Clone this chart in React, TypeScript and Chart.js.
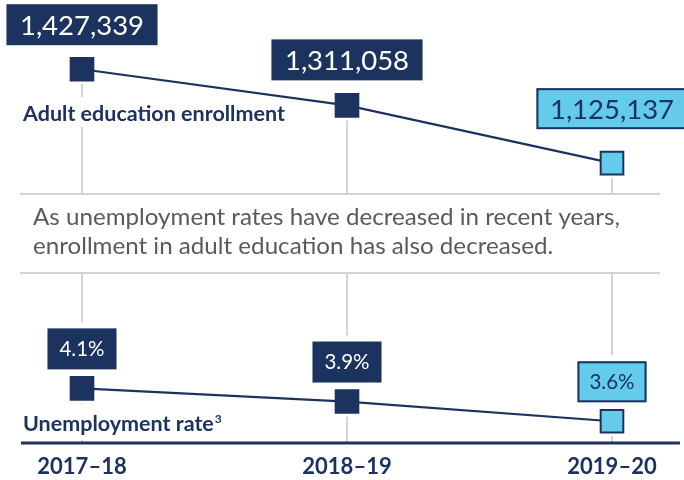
import { useEffect, useRef } from 'react';
import { Chart, registerables } from 'chart.js';

Chart.register(...registerables);

// ---- data ----
const categories = ['2017–18', '2018–19', '2019–20'];
const enrollment = [1427339, 1311058, 1125137];
const unemploymentRate = [4.1, 3.9, 3.6];
const enrollmentTitle = 'Adult education enrollment';
const unemploymentTitle = 'Unemployment rate';
const unemploymentFootnote = '3';
const noteLines = [
  'As unemployment rates have decreased in recent years,',
  'enrollment in adult education has also decreased.',
];

// ---- styles ----
const NAVY = '#1c3360';
const LIGHT = '#64cbea';
const GRID = '#d3d3d3';
const NOTE = '#5a5a5a';
const FONT = 'Lato, "Open Sans", sans-serif';

const LAYOUT = {
  dividerTop: 194,
  dividerBottom: 273,
  ruleLeft: 20,
  ruleRight: 660,
  axisLeft: 21,
  axisRight: 680,
  topBoxOffsets: [24, 25, 34],
  bottomBoxOffset: 19,
  noteX: 33,
  noteStretch: 1.05,
  noteBaselines: [225, 254],
  topTitle: { x: 23, baseline: 121 },
  bottomTitle: { x: 23, baseline: 431 },
};

const isLast = (i: number, n: number) => i === n - 1;

function computeBoxes(chart: any) {
  const { ctx, scales } = chart;
  const out: any[] = [];
  ctx.save();
  enrollment.forEach((v, i) => {
    const size = 27.5;
    const font = `${size}px ${FONT}`;
    ctx.font = font;
    const text = v.toLocaleString('en-US');
    const w = ctx.measureText(text).width + 27;
    const h = 41;
    const px = scales.x.getPixelForValue(i);
    const py = scales.y.getPixelForValue(v);
    const bottom = py - LAYOUT.topBoxOffsets[i];
    out.push({ x: px - w / 2, y: bottom - h, w, h, text, font, size, light: isLast(i, enrollment.length) });
  });
  unemploymentRate.forEach((v, i) => {
    const size = 20.5;
    const font = `${size}px ${FONT}`;
    ctx.font = font;
    const text = v.toFixed(1) + '%';
    const w = ctx.measureText(text).width + 24;
    const h = 41;
    const px = scales.x.getPixelForValue(i);
    const py = scales.y2.getPixelForValue(v);
    const bottom = py - LAYOUT.bottomBoxOffset;
    out.push({ x: px - w / 2, y: bottom - h, w, h, text, font, size, light: isLast(i, unemploymentRate.length) });
  });
  ctx.restore();
  return out;
}

const panelPlugin = {
  id: 'panels',
  beforeDatasetsDraw(chart: any) {
    const { ctx, chartArea, scales } = chart;
    ctx.save();
    const line = (x1: number, y1: number, x2: number, y2: number) => {
      ctx.beginPath();
      ctx.moveTo(x1, y1);
      ctx.lineTo(x2, y2);
      ctx.stroke();
    };
    ctx.strokeStyle = GRID;
    ctx.lineWidth = 2;
    line(LAYOUT.ruleLeft, LAYOUT.dividerTop, LAYOUT.ruleRight, LAYOUT.dividerTop);
    line(LAYOUT.ruleLeft, LAYOUT.dividerBottom, LAYOUT.ruleRight, LAYOUT.dividerBottom);
    categories.forEach((_, i) => {
      const px = scales.x.getPixelForValue(i);
      const py = scales.y.getPixelForValue(enrollment[i]);
      line(px, py, px, LAYOUT.dividerTop);
      line(px, LAYOUT.dividerBottom, px, chartArea.bottom);
    });

    // white pads
    ctx.fillStyle = '#ffffff';
    computeBoxes(chart).forEach((b) => ctx.fillRect(b.x - 6, b.y - 6, b.w + 12, b.h + 12));
    categories.forEach((_, i) => {
      const px = scales.x.getPixelForValue(i);
      const p1 = scales.y.getPixelForValue(enrollment[i]);
      const p2 = scales.y2.getPixelForValue(unemploymentRate[i]);
      ctx.fillRect(px - 15, p1 - 15, 30, 30);
      ctx.fillRect(px - 15, p2 - 15, 30, 30);
    });

    // series titles
    ctx.font = `bold 21.5px ${FONT}`;
    const tw = ctx.measureText(enrollmentTitle).width;
    ctx.fillRect(LAYOUT.topTitle.x - 3, LAYOUT.topTitle.baseline - 24, tw + 6, 30);
    const uw = ctx.measureText(unemploymentTitle).width;
    ctx.fillRect(LAYOUT.bottomTitle.x - 3, LAYOUT.bottomTitle.baseline - 27, uw + 20, 36);

    ctx.fillStyle = NAVY;
    ctx.textBaseline = 'alphabetic';
    ctx.textAlign = 'left';
    ctx.fillText(enrollmentTitle, LAYOUT.topTitle.x, LAYOUT.topTitle.baseline);
    ctx.fillText(unemploymentTitle, LAYOUT.bottomTitle.x, LAYOUT.bottomTitle.baseline);
    ctx.font = `bold 12px ${FONT}`;
    ctx.fillText(unemploymentFootnote, LAYOUT.bottomTitle.x + uw + 1, LAYOUT.bottomTitle.baseline - 8);

    // note
    ctx.fillStyle = NOTE;
    ctx.font = `23px ${FONT}`;
    noteLines.forEach((t, i) => {
      ctx.save();
      ctx.translate(LAYOUT.noteX, LAYOUT.noteBaselines[i]);
      ctx.scale(LAYOUT.noteStretch, 1);
      ctx.fillText(t, 0, 0);
      ctx.restore();
    });
    ctx.restore();
  },
  afterDatasetsDraw(chart: any) {
    const { ctx } = chart;
    ctx.save();
    computeBoxes(chart).forEach((b) => {
      ctx.fillStyle = b.light ? LIGHT : NAVY;
      ctx.fillRect(b.x, b.y, b.w, b.h);
      if (b.light) {
        ctx.strokeStyle = NAVY;
        ctx.lineWidth = 2;
        ctx.strokeRect(b.x + 1, b.y + 1, b.w - 2, b.h - 2);
      }
      ctx.fillStyle = b.light ? NAVY : '#ffffff';
      ctx.font = b.font;
      ctx.textAlign = 'center';
      ctx.textBaseline = 'alphabetic';
      ctx.fillText(b.text, b.x + b.w / 2, b.y + b.h / 2 + b.size * 0.36);
    });
    // x axis rule
    ctx.strokeStyle = NAVY;
    ctx.lineWidth = 3;
    ctx.beginPath();
    ctx.moveTo(LAYOUT.axisLeft, chart.chartArea.bottom);
    ctx.lineTo(LAYOUT.axisRight, chart.chartArea.bottom);
    ctx.stroke();
    ctx.restore();
  },
};

export default function App() {
  const ref = useRef<HTMLCanvasElement | null>(null);

  useEffect(() => {
    if (!ref.current) return;
    const pointColors = (n: number) =>
      Array.from({ length: n }, (_, i) => (isLast(i, n) ? LIGHT : NAVY));
    const chart = new Chart(ref.current, {
      type: 'line',
      data: {
        labels: categories,
        datasets: [
          {
            label: enrollmentTitle,
            data: enrollment,
            yAxisID: 'y',
            borderColor: NAVY,
            borderWidth: 2.2,
            pointStyle: 'rect',
            pointRadius: 16,
            pointBackgroundColor: pointColors(enrollment.length),
            pointBorderColor: NAVY,
            pointBorderWidth: 2,
            tension: 0,
          },
          {
            label: unemploymentTitle,
            data: unemploymentRate,
            yAxisID: 'y2',
            borderColor: NAVY,
            borderWidth: 2.2,
            pointStyle: 'rect',
            pointRadius: 16,
            pointBackgroundColor: pointColors(unemploymentRate.length),
            pointBorderColor: NAVY,
            pointBorderWidth: 2,
            tension: 0,
          },
        ],
      },
      options: {
        animation: false,
        responsive: true,
        maintainAspectRatio: false,
        layout: { autoPadding: false, padding: { left: 82, right: 72, top: 0, bottom: 0 } },
        plugins: { legend: { display: false }, tooltip: { enabled: false } },
        scales: {
          x: {
            type: 'category',
            offset: false,
            grid: { display: false, drawTicks: false },
            border: { display: false },
            ticks: {
              color: NAVY,
              font: { family: FONT, size: 22, weight: 'bold' },
              padding: 11,
              maxRotation: 0,
              autoSkip: false,
            },
            afterFit: (scale: any) => {
              scale.height = 37;
            },
          },
          y: { type: 'linear', display: false, min: 225000, max: 1650000 },
          y2: { type: 'linear', display: false, min: 3.27, max: 10.0 },
        },
      } as any,
      plugins: [panelPlugin],
    });
    return () => chart.destroy();
  }, []);

  return (
    <div style={{ position: 'absolute', left: 0, top: 0, width: 684, height: 480, background: '#fff' }}>
      <canvas ref={ref} />
    </div>
  );
}
